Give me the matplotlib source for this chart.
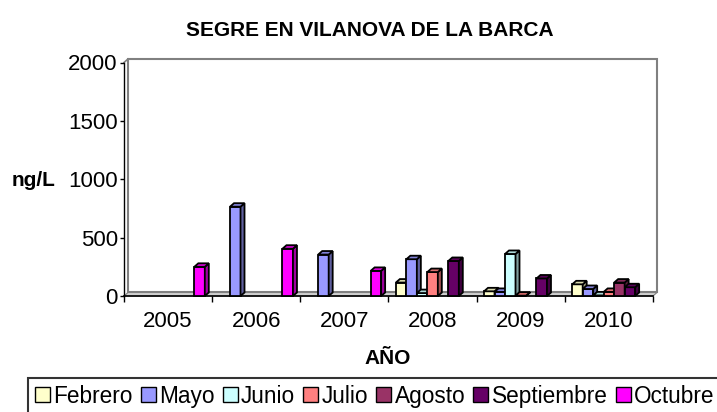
import numpy as np
import matplotlib
matplotlib.use('Agg')
import matplotlib.pyplot as plt
from matplotlib.patches import Polygon, Patch
from matplotlib.colors import to_rgb

plt.rcParams['font.family'] = ['Liberation Sans', 'DejaVu Sans']

years = ['2005', '2006', '2007', '2008', '2009', '2010']
months = ['Febrero', 'Mayo', 'Junio', 'Julio', 'Agosto', 'Septiembre', 'Octubre']
nan = np.nan
febrero = [nan, nan, nan, 115, 40, 100]
mayo = [nan, 765, 355, 315, 35, 60]
junio = [nan, nan, nan, 25, 360, 5]
julio = [nan, nan, nan, 205, 3, 35]
agosto = [nan, nan, nan, nan, nan, 115]
septiembre = [nan, nan, nan, 300, 150, 75]
octubre = [250, 405, 215, nan, nan, nan]
series = [febrero, mayo, junio, julio, agosto, septiembre, octubre]
colors = ['#FFFFCC', '#9999FF', '#CCFFFF', '#FF8080', '#993366', '#660066', '#FF00FF']
yticks = [0, 500, 1000, 1500, 2000]

W, H = 717, 412
fig = plt.figure(figsize=(W / 100, H / 100), dpi=100)
ax = fig.add_axes([124 / W, (H - 296) / H, (653 - 124) / W, (296 - 62.5) / H])
ax.set_xlim(-0.5, len(years) - 0.5)
ax.set_ylim(0, 2000)

# pixel -> data conversion for depth
p0 = ax.transData.transform((0, 0))
p1 = ax.transData.transform((1, 1))
ppx, ppy = p1[0] - p0[0], p1[1] - p0[1]
dx = 4.0 / ppx
dy = 3.5 / ppy

x0, x1 = -0.5, len(years) - 0.5
ymax = 2000
# back wall
ax.add_patch(Polygon([(x0 + dx, dy), (x1 + dx, dy), (x1 + dx, ymax + dy), (x0 + dx, ymax + dy)],
                     closed=True, facecolor='white', edgecolor='#808080', lw=1.5,
                     clip_on=False, zorder=0.5))
ax.plot([x0, x0 + dx], [ymax, ymax + dy], color='#808080', lw=1.2, clip_on=False, zorder=0.6)
# floor
ax.add_patch(Polygon([(x0, 0), (x1, 0), (x1 + dx, dy), (x0 + dx, dy)],
                     closed=True, facecolor='#D0D0D0', edgecolor='#808080', lw=0.8,
                     clip_on=False, zorder=0.7))

n = len(series)
gap = 0.167
bw = (1 - gap) / n

def shade(c, f):
    r, g, b = to_rgb(c)
    return (r * f, g * f, b * f)

for gi in range(len(years)):
    for si, vals in enumerate(series):
        v = vals[gi]
        if np.isnan(v):
            continue
        z = 2 + gi * 0.1 + si * 0.01
        left = gi - 0.5 + gap / 2 + si * bw
        c = colors[si]
        ax.bar([left], [v], width=bw, align='edge', color=c, edgecolor='black',
               linewidth=1.3, zorder=z, clip_on=False)
        side = Polygon([(left + bw, 0), (left + bw + dx, dy), (left + bw + dx, v + dy), (left + bw, v)],
                       closed=True, facecolor=shade(c, 0.62), edgecolor='black', lw=1.3,
                       zorder=z, clip_on=False)
        top = Polygon([(left, v), (left + bw, v), (left + bw + dx, v + dy), (left + dx, v + dy)],
                      closed=True, facecolor=shade(c, 0.85), edgecolor='black', lw=1.3,
                      zorder=z, clip_on=False)
        ax.add_patch(side)
        ax.add_patch(top)

for s in ['top', 'right']:
    ax.spines[s].set_visible(False)
ax.spines['left'].set_color('black')
ax.spines['bottom'].set_color('black')
ax.spines['left'].set_linewidth(1.0)
ax.spines['bottom'].set_linewidth(1.2)
ax.spines['left'].set_zorder(1)
ax.spines['bottom'].set_zorder(1)
ax.patch.set_visible(False)

ax.set_yticks(yticks)
ax.set_yticklabels([str(t) for t in yticks])
ax.tick_params(axis='y', length=3, width=1, pad=1.5, labelsize=16, direction='out')
ax.set_xticks(range(len(years)))
ax.set_xticklabels(years)
ax.set_xticks(np.arange(-0.5, len(years), 1.0), minor=True)
ax.tick_params(axis='x', which='major', length=0, pad=10.5, labelsize=16)
ax.tick_params(axis='x', which='minor', length=4, width=1)

fig.text(370 / W, 1 - 31 / H, 'SEGRE EN VILANOVA DE LA BARCA', ha='center', va='center',
         fontsize=15, fontweight='bold')
fig.text(34 / W, 1 - 186 / H, 'ng/L', ha='center', va='baseline', fontsize=15, fontweight='bold')
fig.text(388 / W, 1 - 364 / H, 'AÑO', ha='center', va='baseline', fontsize=15, fontweight='bold')

handles = [Patch(facecolor=c, edgecolor='black', linewidth=1.0) for c in colors]
leg = fig.legend(handles, months, loc='upper left', bbox_to_anchor=(28 / W, 1 - 378 / H),
                 ncol=7, frameon=True, fancybox=False, fontsize=16.3, handlelength=0.66,
                 handleheight=0.66, handletextpad=0.15, columnspacing=0.36,
                 borderpad=0.3, borderaxespad=0)
leg.get_frame().set_edgecolor('black')
leg.get_frame().set_linewidth(1.5)

fig.savefig('out.png', dpi=100)
